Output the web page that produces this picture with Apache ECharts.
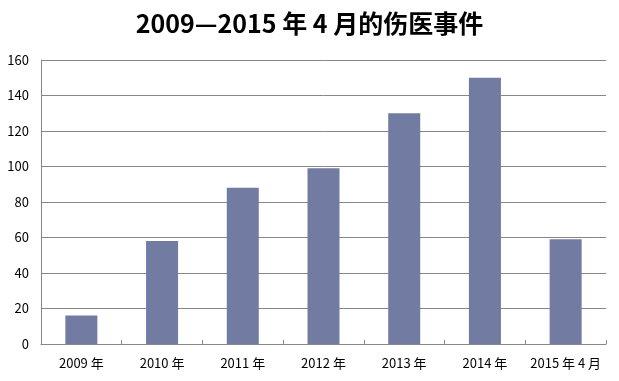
<!DOCTYPE html>
<html><head><meta charset="utf-8">
<script src="https://cdn.jsdelivr.net/npm/echarts@6/dist/echarts.min.js"></script>
<style>html,body{margin:0;padding:0;background:#fff}#c{width:619px;height:381px}</style>
</head><body><div id="c"></div>
<script>
const categories = ['2009 年','2010 年','2011 年','2012 年','2013 年','2014 年','2015 年 4 月'];
const values = [16, 58, 88, 99, 130, 150, 59];
const titleText = '2009—2015 年 4 月的伤医事件';
const chart = echarts.init(document.getElementById('c'));
const font = '"Noto Sans CJK SC", "Noto Sans", sans-serif';
chart.setOption({
  animation: false,
  title: {text: titleText, left: 'center', top: 6,
    textStyle: {fontFamily: font, fontSize: 25, fontWeight: 'bold', color: '#000'}},
  grid: {left: 41, right: 13, top: 60, bottom: 37},
  xAxis: {type: 'category', data: categories,
    axisLine: {lineStyle: {color: '#868686', width: 1}},
    axisTick: {show: true, inside: true, length: 4, interval: 0, lineStyle: {color: '#868686'}},
    axisLabel: {fontFamily: font, fontSize: 13, color: '#000', margin: 13, interval: 0}},
  yAxis: {type: 'value', min: 0, max: 160, interval: 20,
    axisLine: {show: true, lineStyle: {color: '#868686'}},
    axisTick: {show: false},
    splitLine: {lineStyle: {color: '#868686'}},
    axisLabel: {fontFamily: font, fontSize: 13, color: '#000', margin: 12}},
  series: [{type: 'bar', data: values, barWidth: 32, itemStyle: {color: '#727BA2'}}]
});
</script></body></html>
